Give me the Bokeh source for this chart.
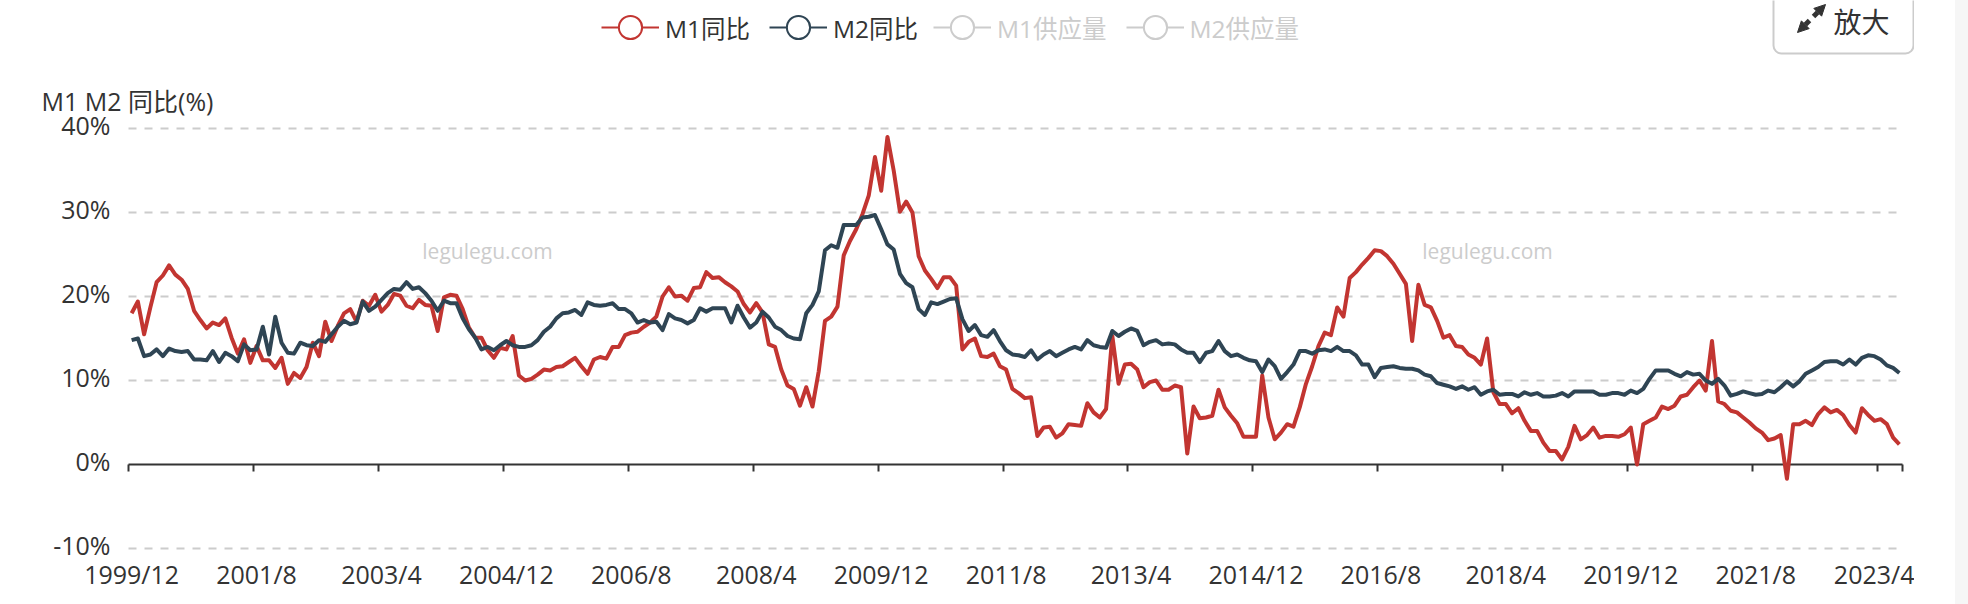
from bokeh.embed import file_html
from bokeh.resources import INLINE
from bokeh.plotting import figure
from bokeh.layouts import row
from bokeh.models import (Arrow, BoxAnnotation, ColumnDataSource, Div, FixedTicker, Label, Legend,
                          LegendItem, LinearAxis, NormalHead, Range1d, Spacer)

# Monthly values 1999/12 onward
m1_yoy = [
    18.0, 19.4, 15.5, 18.7, 21.7, 22.5, 23.7, 22.6, 22.0, 20.9, 18.3, 17.2, 16.2, 16.9, 16.6, 17.4,
    15.1, 13.2, 14.9, 12.1, 14.1, 12.4, 12.4, 11.5, 12.7, 9.6, 10.9, 10.3, 11.6, 14.5, 12.9, 17.0,
    14.7, 16.5, 18.0, 18.5, 17.0, 19.5, 18.9, 20.2, 18.2, 19.0, 20.3, 20.1, 18.9, 18.6, 19.6, 19.0,
    18.9, 15.9, 19.9, 20.2, 20.1, 18.5, 16.3, 15.1, 15.1, 13.6, 12.7, 13.9, 13.7, 15.3, 10.6, 10.0,
    10.2, 10.7, 11.3, 11.2, 11.6, 11.7, 12.2, 12.7, 11.7, 10.8, 12.5, 12.8, 12.6, 14.0, 14.0, 15.4,
    15.7, 15.8, 16.4, 16.9, 17.6, 20.0, 21.1, 20.0, 20.1, 19.5, 21.0, 21.1, 22.9, 22.2, 22.3, 21.7,
    21.2, 20.6, 19.1, 18.1, 19.2, 18.1, 14.3, 14.0, 11.3, 9.4, 9.0, 7.0, 9.2, 6.9, 11.1, 17.1,
    17.6, 18.8, 24.9, 26.6, 28.0, 29.8, 32.0, 36.6, 32.6, 39.0, 35.0, 30.1, 31.3, 30.0, 24.8, 23.1,
    22.1, 21.0, 22.3, 22.3, 21.3, 13.7, 14.6, 15.0, 12.9, 12.8, 13.2, 11.7, 11.3, 9.0, 8.5, 7.9,
    8.0, 3.4, 4.4, 4.5, 3.2, 3.7, 4.8, 4.7, 4.6, 7.3, 6.2, 5.6, 6.6, 15.3, 9.6, 11.9,
    12.0, 11.3, 9.2, 9.8, 10.0, 8.9, 8.9, 9.4, 9.2, 1.3, 6.9, 5.5, 5.6, 5.8, 8.9, 6.8,
    5.8, 4.9, 3.3, 3.3, 3.3, 10.6, 5.6, 3.0, 3.8, 4.8, 4.5, 6.8, 9.6, 11.7, 14.1, 15.7,
    15.4, 18.7, 17.6, 22.2, 22.9, 23.8, 24.6, 25.5, 25.4, 24.8, 23.9, 22.7, 21.5, 14.7, 21.4, 19.0,
    18.7, 17.1, 15.1, 15.4, 14.1, 14.0, 13.1, 12.7, 11.9, 15.0, 8.6, 7.2, 7.2, 6.1, 6.7, 5.2,
    4.0, 4.0, 2.6, 1.6, 1.6, 0.6, 2.1, 4.6, 3.0, 3.5, 4.4, 3.2, 3.4, 3.4, 3.3, 3.6,
    4.4, 0.0, 4.8, 5.2, 5.6, 6.9, 6.6, 7.0, 8.1, 8.3, 9.2, 10.0, 8.8, 14.7, 7.5, 7.2,
    6.4, 6.2, 5.6, 5.0, 4.3, 3.8, 2.9, 3.1, 3.5, -1.7, 4.8, 4.8, 5.2, 4.7, 6.0, 6.8,
    6.2, 6.5, 5.9, 4.7, 3.8, 6.7, 5.9, 5.2, 5.4, 4.8, 3.2, 2.4,
]
m2_yoy = [
    14.8, 15.0, 12.9, 13.1, 13.7, 12.9, 13.8, 13.5, 13.4, 13.5, 12.5, 12.5, 12.4, 13.5, 12.2, 13.3,
    12.9, 12.3, 14.3, 13.6, 13.7, 16.4, 13.1, 17.6, 14.5, 13.3, 13.2, 14.5, 14.2, 14.1, 14.8, 14.6,
    15.5, 16.4, 17.1, 16.7, 16.9, 19.4, 18.3, 18.8, 19.6, 20.4, 20.9, 20.8, 21.7, 20.9, 21.1, 20.4,
    19.5, 18.3, 19.5, 19.2, 19.2, 17.4, 16.1, 15.1, 13.7, 14.0, 13.6, 14.2, 14.7, 14.2, 14.0, 14.0,
    14.2, 14.8, 15.8, 16.4, 17.4, 18.0, 18.1, 18.4, 17.8, 19.3, 19.0, 18.9, 19.0, 19.2, 18.5, 18.5,
    18.0, 16.9, 17.2, 16.9, 17.0, 16.0, 17.9, 17.4, 17.2, 16.8, 17.2, 18.6, 18.2, 18.6, 18.6, 18.6,
    16.9, 18.9, 17.5, 16.3, 16.9, 18.2, 17.5, 16.4, 16.0, 15.3, 15.0, 14.9, 18.0, 19.0, 20.6, 25.5,
    26.1, 25.8, 28.5, 28.5, 28.5, 29.4, 29.5, 29.7, 28.0, 26.2, 25.6, 22.7, 21.6, 21.1, 18.5, 17.8,
    19.3, 19.1, 19.4, 19.7, 19.8, 17.3, 15.9, 16.6, 15.4, 15.2, 16.0, 14.7, 13.6, 13.1, 13.0, 12.8,
    13.6, 12.5, 13.1, 13.5, 12.9, 13.3, 13.7, 14.0, 13.7, 14.8, 14.2, 14.0, 13.9, 15.9, 15.3, 15.8,
    16.2, 15.9, 14.2, 14.6, 14.8, 14.3, 14.4, 14.3, 13.7, 13.3, 13.3, 12.2, 13.3, 13.5, 14.7, 13.5,
    12.9, 13.1, 12.7, 12.4, 12.3, 11.0, 12.5, 11.7, 10.2, 11.0, 11.9, 13.5, 13.5, 13.2, 13.6, 13.7,
    13.5, 14.0, 13.5, 13.5, 13.0, 11.9, 11.9, 10.4, 11.5, 11.6, 11.7, 11.5, 11.4, 11.4, 11.2, 10.7,
    10.5, 9.7, 9.5, 9.3, 9.0, 9.3, 8.9, 9.2, 8.3, 8.7, 8.9, 8.3, 8.4, 8.4, 8.1, 8.6,
    8.3, 8.5, 8.1, 8.1, 8.2, 8.5, 8.1, 8.7, 8.7, 8.7, 8.7, 8.3, 8.3, 8.5, 8.5, 8.3,
    8.8, 8.5, 9.0, 10.2, 11.2, 11.2, 11.2, 10.8, 10.5, 11.0, 10.7, 10.8, 10.0, 9.6, 10.2, 9.4,
    8.2, 8.4, 8.7, 8.5, 8.3, 8.4, 8.8, 8.6, 9.2, 9.9, 9.3, 9.9, 10.8, 11.2, 11.6, 12.2,
    12.3, 12.3, 11.9, 12.5, 11.9, 12.7, 13.0, 12.9, 12.5, 11.8, 11.5, 10.9,
]
x_tick_index = [0, 20, 40, 60, 80, 100, 120, 140, 160, 180, 200, 220, 240, 260, 280]
x_tick_labels = ["1999/12", "2001/8", "2003/4", "2004/12", "2006/8", "2008/4", "2009/12", "2011/8",
                 "2013/4", "2014/12", "2016/8", "2018/4", "2019/12", "2021/8", "2023/4"]
y_ticks = [-10, 0, 10, 20, 30, 40]
legend_active = ["M1同比", "M2同比"]
legend_inactive = ["M1供应量", "M2供应量"]
watermark = "legulegu.com"

FONT = "'Open Sans', 'Noto Sans CJK SC'"
RED, NAVY, INK, PALE = "#c23531", "#2f4554", "#333333", "#cccccc"
W, H = 1914, 596
PL, PR, PB = 128, 1902, 548    # plot left / right and the -10% line, in window px
PX_PER_PCT = 8.4
LABEL_LIFT = 0.45              # y tick texts sit a little above their grid lines


def sx(px):
    return px


def sy(py):
    return H - py


n = len(m1_yoy)
xc = [i + 0.5 for i in range(n)]
src = ColumnDataSource(dict(x=xc, m1=m1_yoy, m2=m2_yoy))

units_per_px = n / (PR - PL)
p = figure(width=W, height=H, output_backend="svg", toolbar_location=None,
           x_range=Range1d(-PL * units_per_px, n + (W - PR) * units_per_px),
           y_range=Range1d(-10 - (H - PB) / PX_PER_PCT, -10 + PB / PX_PER_PCT),
           min_border_left=0, min_border_right=0, min_border_top=0, min_border_bottom=0,
           outline_line_color=None)

ax = p.xaxis[0]
ax.fixed_location = -10
ax.ticker = FixedTicker(ticks=[i + 0.5 for i in x_tick_index])
ax.major_label_overrides = {i + 0.5: t for i, t in zip(x_tick_index, x_tick_labels)}
ax.axis_line_color = None
ax.major_tick_line_color = None
ax.minor_tick_line_color = None
ax.major_label_text_font = FONT
ax.major_label_text_font_size = "25px"
ax.major_label_text_color = INK
ax.major_label_standoff = 2

zero_axis = LinearAxis(fixed_location=0, ticker=FixedTicker(ticks=x_tick_index + [n]), bounds=(0, n),
                       major_label_text_font_size="0px", major_label_text_color=None,
                       axis_line_color=INK, axis_line_width=2, major_tick_line_color=INK,
                       major_tick_line_width=2, major_tick_out=7, major_tick_in=0,
                       minor_tick_line_color=None, major_label_standoff=0, level="underlay")
p.add_layout(zero_axis, "below")

ya = p.yaxis[0]
ya.fixed_location = 0
ya.ticker = FixedTicker(ticks=[v + LABEL_LIFT for v in y_ticks])
ya.major_label_overrides = {v + LABEL_LIFT: f"{v}%" for v in y_ticks}
ya.axis_line_color = None
ya.major_tick_line_color = None
ya.minor_tick_line_color = None
ya.major_label_text_font = FONT
ya.major_label_text_font_size = "25px"
ya.major_label_text_color = INK
ya.major_label_standoff = 12

p.xgrid.visible = False
p.ygrid.ticker = FixedTicker(ticks=[v for v in y_ticks if v != 0])
p.ygrid.cross_bounds = (0, n)
p.ygrid.grid_line_color = PALE
p.ygrid.grid_line_width = 2
p.ygrid.grid_line_dash = "8 8"

r1 = p.line("x", "m1", source=src, line_color=RED, line_width=4, line_join="round")
r2 = p.line("x", "m2", source=src, line_color=NAVY, line_width=4, line_join="round")


def key(color):
    blank = ColumnDataSource(dict(x=[float("nan")], y=[float("nan")]))
    ln = p.line("x", "y", source=blank, line_color=color, line_width=2)
    dot = p.scatter("x", "y", source=blank, marker="circle", fill_color="white",
                    line_color=color, line_width=2)
    return ln, dot


def make_legend(names, colors, label_color, left):
    items = [LegendItem(label=nm, renderers=list(key(c))) for nm, c in zip(names, colors)]
    lg = Legend(items=items, orientation="horizontal", location=(sx(left), sy(56)),
                glyph_width=58, glyph_height=58, label_standoff=6, spacing=19, padding=0, margin=0,
                border_line_color=None, background_fill_alpha=0,
                label_text_font=FONT, label_text_font_size="24.5px", label_text_color=label_color)
    p.add_layout(lg, "center")


make_legend(legend_active, [RED, NAVY], INK, 601)
make_legend(legend_inactive, [PALE, PALE], PALE, 933)

for cx in (487, 1487):
    p.add_layout(Label(x=sx(cx), y=sy(250), x_units="screen", y_units="screen", text=watermark,
                       text_font=FONT, text_font_size="21px", text_color="#cccccc",
                       text_align="center", text_baseline="middle"))

p.add_layout(Label(x=sx(41), y=sy(100), x_units="screen", y_units="screen", text="M1 M2 同比(%)",
                   text_font=FONT, text_font_size="25px", text_color=INK, text_baseline="middle"))

p.add_layout(BoxAnnotation(left=sx(1773), right=sx(1913), top=sy(-12), bottom=sy(53),
                           left_units="screen", right_units="screen", top_units="screen",
                           bottom_units="screen", fill_alpha=0, line_color=PALE, line_alpha=1,
                           line_width=2, border_radius=8))
p.add_layout(Label(x=sx(1833), y=sy(20), x_units="screen", y_units="screen", text="放大",
                   text_font="'Noto Sans CJK SC'", text_font_size="28px", text_color=INK,
                   text_baseline="middle"))
for (a, b, c, d) in ((1813, 16, 1825, 4), (1809, 20, 1797, 32)):
    p.add_layout(Arrow(x_start=sx(a), y_start=sy(b), x_end=sx(c), y_end=sy(d),
                       start_units="screen", end_units="screen", line_color=INK, line_width=5,
                       end=NormalHead(size=11, fill_color=INK, line_color=INK, line_width=1)))

gutter = Spacer(width=41, height=10)
scroll = Div(width=13, height=604, styles={"background": "#f6f6f6"}, margin=0)
page = row(p, gutter, scroll, spacing=0)

open("out.html", "w").write(file_html(page, INLINE))
